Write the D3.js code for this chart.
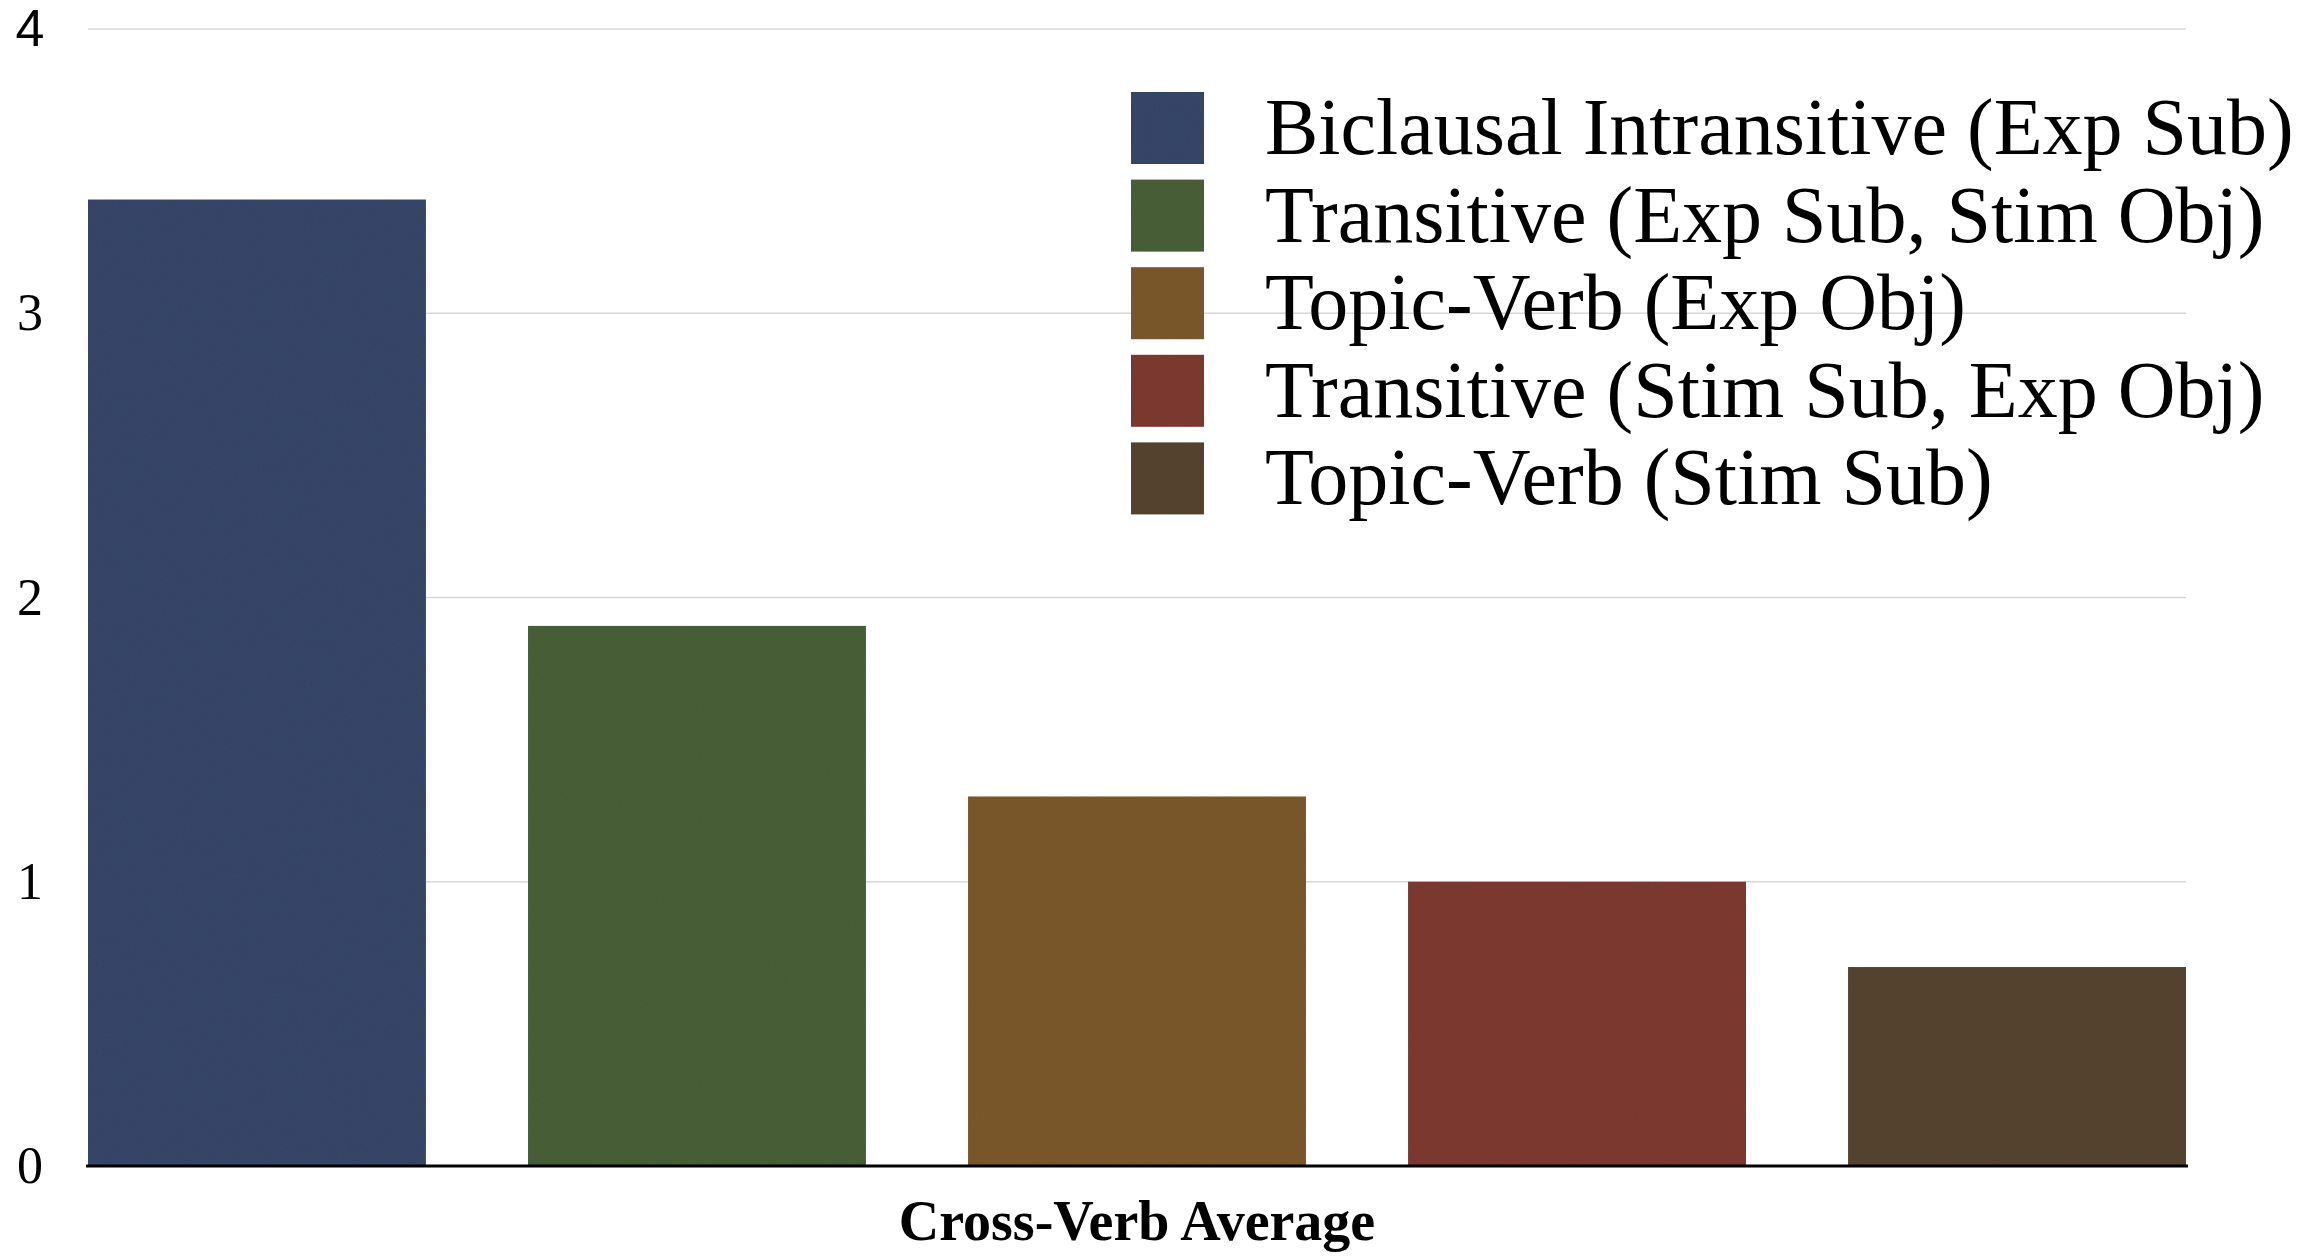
<!DOCTYPE html>
<html>
<head>
<meta charset="utf-8">
<script src="https://cdn.jsdelivr.net/npm/d3@7"></script>
<style>
  html, body { margin: 0; padding: 0; background: #ffffff; }
  svg { display: block; }
</style>
</head>
<body>
<svg id="chart" width="2316" height="1256"></svg>
<script>
// ---- data ----
const categories = [
  "Biclausal Intransitive (Exp Sub)",
  "Transitive (Exp Sub, Stim Obj)",
  "Topic-Verb (Exp Obj)",
  "Transitive (Stim Sub, Exp Obj)",
  "Topic-Verb (Stim Sub)"
];
const values = [3.4, 1.9, 1.3, 1.0, 0.7];
const colors = ["#37476a", "#4a6137", "#7d592d", "#7e3a33", "#574532"];
const yTicks = [0, 1, 2, 3, 4];
const xLabel = "Cross-Verb Average";

// ---- layout ----
const svg = d3.select("#chart");
const margin = { left: 88, right: 2316 - 2186, top: 29, bottom: 1256 - 1166 };
const W = 2316, H = 1256;
const plotW = W - margin.left - margin.right;
const plotH = H - margin.top - margin.bottom;

const x = d3.scaleBand().domain(categories).range([0, plotW])
  .paddingInner(0.232).paddingOuter(0);
const y = d3.scaleLinear().domain([0, 4]).range([plotH, 0]);

// noise filter for the textured look
const defs = svg.append("defs");
const f = defs.append("filter").attr("id", "grain").attr("x", 0).attr("y", 0)
  .attr("width", 1).attr("height", 1);
f.append("feTurbulence").attr("type", "fractalNoise").attr("baseFrequency", 0.6)
  .attr("numOctaves", 2).attr("seed", 3).attr("result", "noise");
f.append("feColorMatrix").attr("in", "noise").attr("type", "matrix")
  .attr("values", "0 0 0 0 0  0 0 0 0 0  0 0 0 0 0  0 0 0 0.10 0").attr("result", "dark");
f.append("feComposite").attr("in", "dark").attr("in2", "SourceGraphic").attr("operator", "in").attr("result", "darkIn");
f.append("feMerge").selectAll("feMergeNode").data(["SourceGraphic", "darkIn"]).join("feMergeNode").attr("in", d => d);

const g = svg.append("g").attr("transform", `translate(${margin.left},${margin.top})`);

// gridlines
g.append("g")
  .selectAll("line")
  .data(yTicks.filter(t => t > 0))
  .join("line")
  .attr("x1", 0).attr("x2", plotW)
  .attr("y1", d => y(d)).attr("y2", d => y(d))
  .attr("stroke", "#d6d6d6").attr("stroke-width", 1.6);

// y labels
const yAxis = d3.axisLeft(y).tickValues(yTicks).tickFormat(d3.format("d")).tickSize(0).tickPadding(0);
const ya = g.append("g").attr("transform", "translate(-58,0)").call(yAxis);
ya.select(".domain").remove();
ya.selectAll("text")
  .attr("text-anchor", "middle")
  .attr("font-size", 52)
  .attr("fill", "#000")
  .attr("font-family", d => d === 4 ? "'Liberation Sans', Arial, sans-serif" : "'Liberation Serif', 'Times New Roman', serif");

// bars
g.append("g")
  .selectAll("rect")
  .data(categories)
  .join("rect")
  .attr("x", d => x(d))
  .attr("y", (d, i) => y(values[i]))
  .attr("width", x.bandwidth())
  .attr("height", (d, i) => y(0) - y(values[i]))
  .attr("fill", (d, i) => colors[i])
  .attr("filter", "url(#grain)");

// baseline
g.append("line")
  .attr("x1", -2).attr("x2", plotW + 2)
  .attr("y1", y(0)).attr("y2", y(0))
  .attr("stroke", "#000").attr("stroke-width", 3);

// x label
g.append("text")
  .attr("x", plotW / 2).attr("y", plotH + 74)
  .attr("text-anchor", "middle")
  .attr("font-family", "'Liberation Serif', 'Times New Roman', serif")
  .attr("font-weight", "bold")
  .attr("font-size", 56)
  .attr("fill", "#000")
  .text(xLabel);

// legend
const legend = svg.append("g").attr("transform", "translate(1131,92)");
const rowH = 87.6;
const items = legend.selectAll("g")
  .data(categories)
  .join("g")
  .attr("transform", (d, i) => `translate(0,${i * rowH})`);
items.append("rect")
  .attr("width", 73).attr("height", 72)
  .attr("fill", (d, i) => colors[i])
  .attr("filter", "url(#grain)");
items.append("text")
  .attr("x", 134).attr("y", 62)
  .attr("font-family", "'Liberation Serif', 'Times New Roman', serif")
  .attr("font-size", 80)
  .attr("fill", "#000")
  .text(d => d);
</script>
</body>
</html>
